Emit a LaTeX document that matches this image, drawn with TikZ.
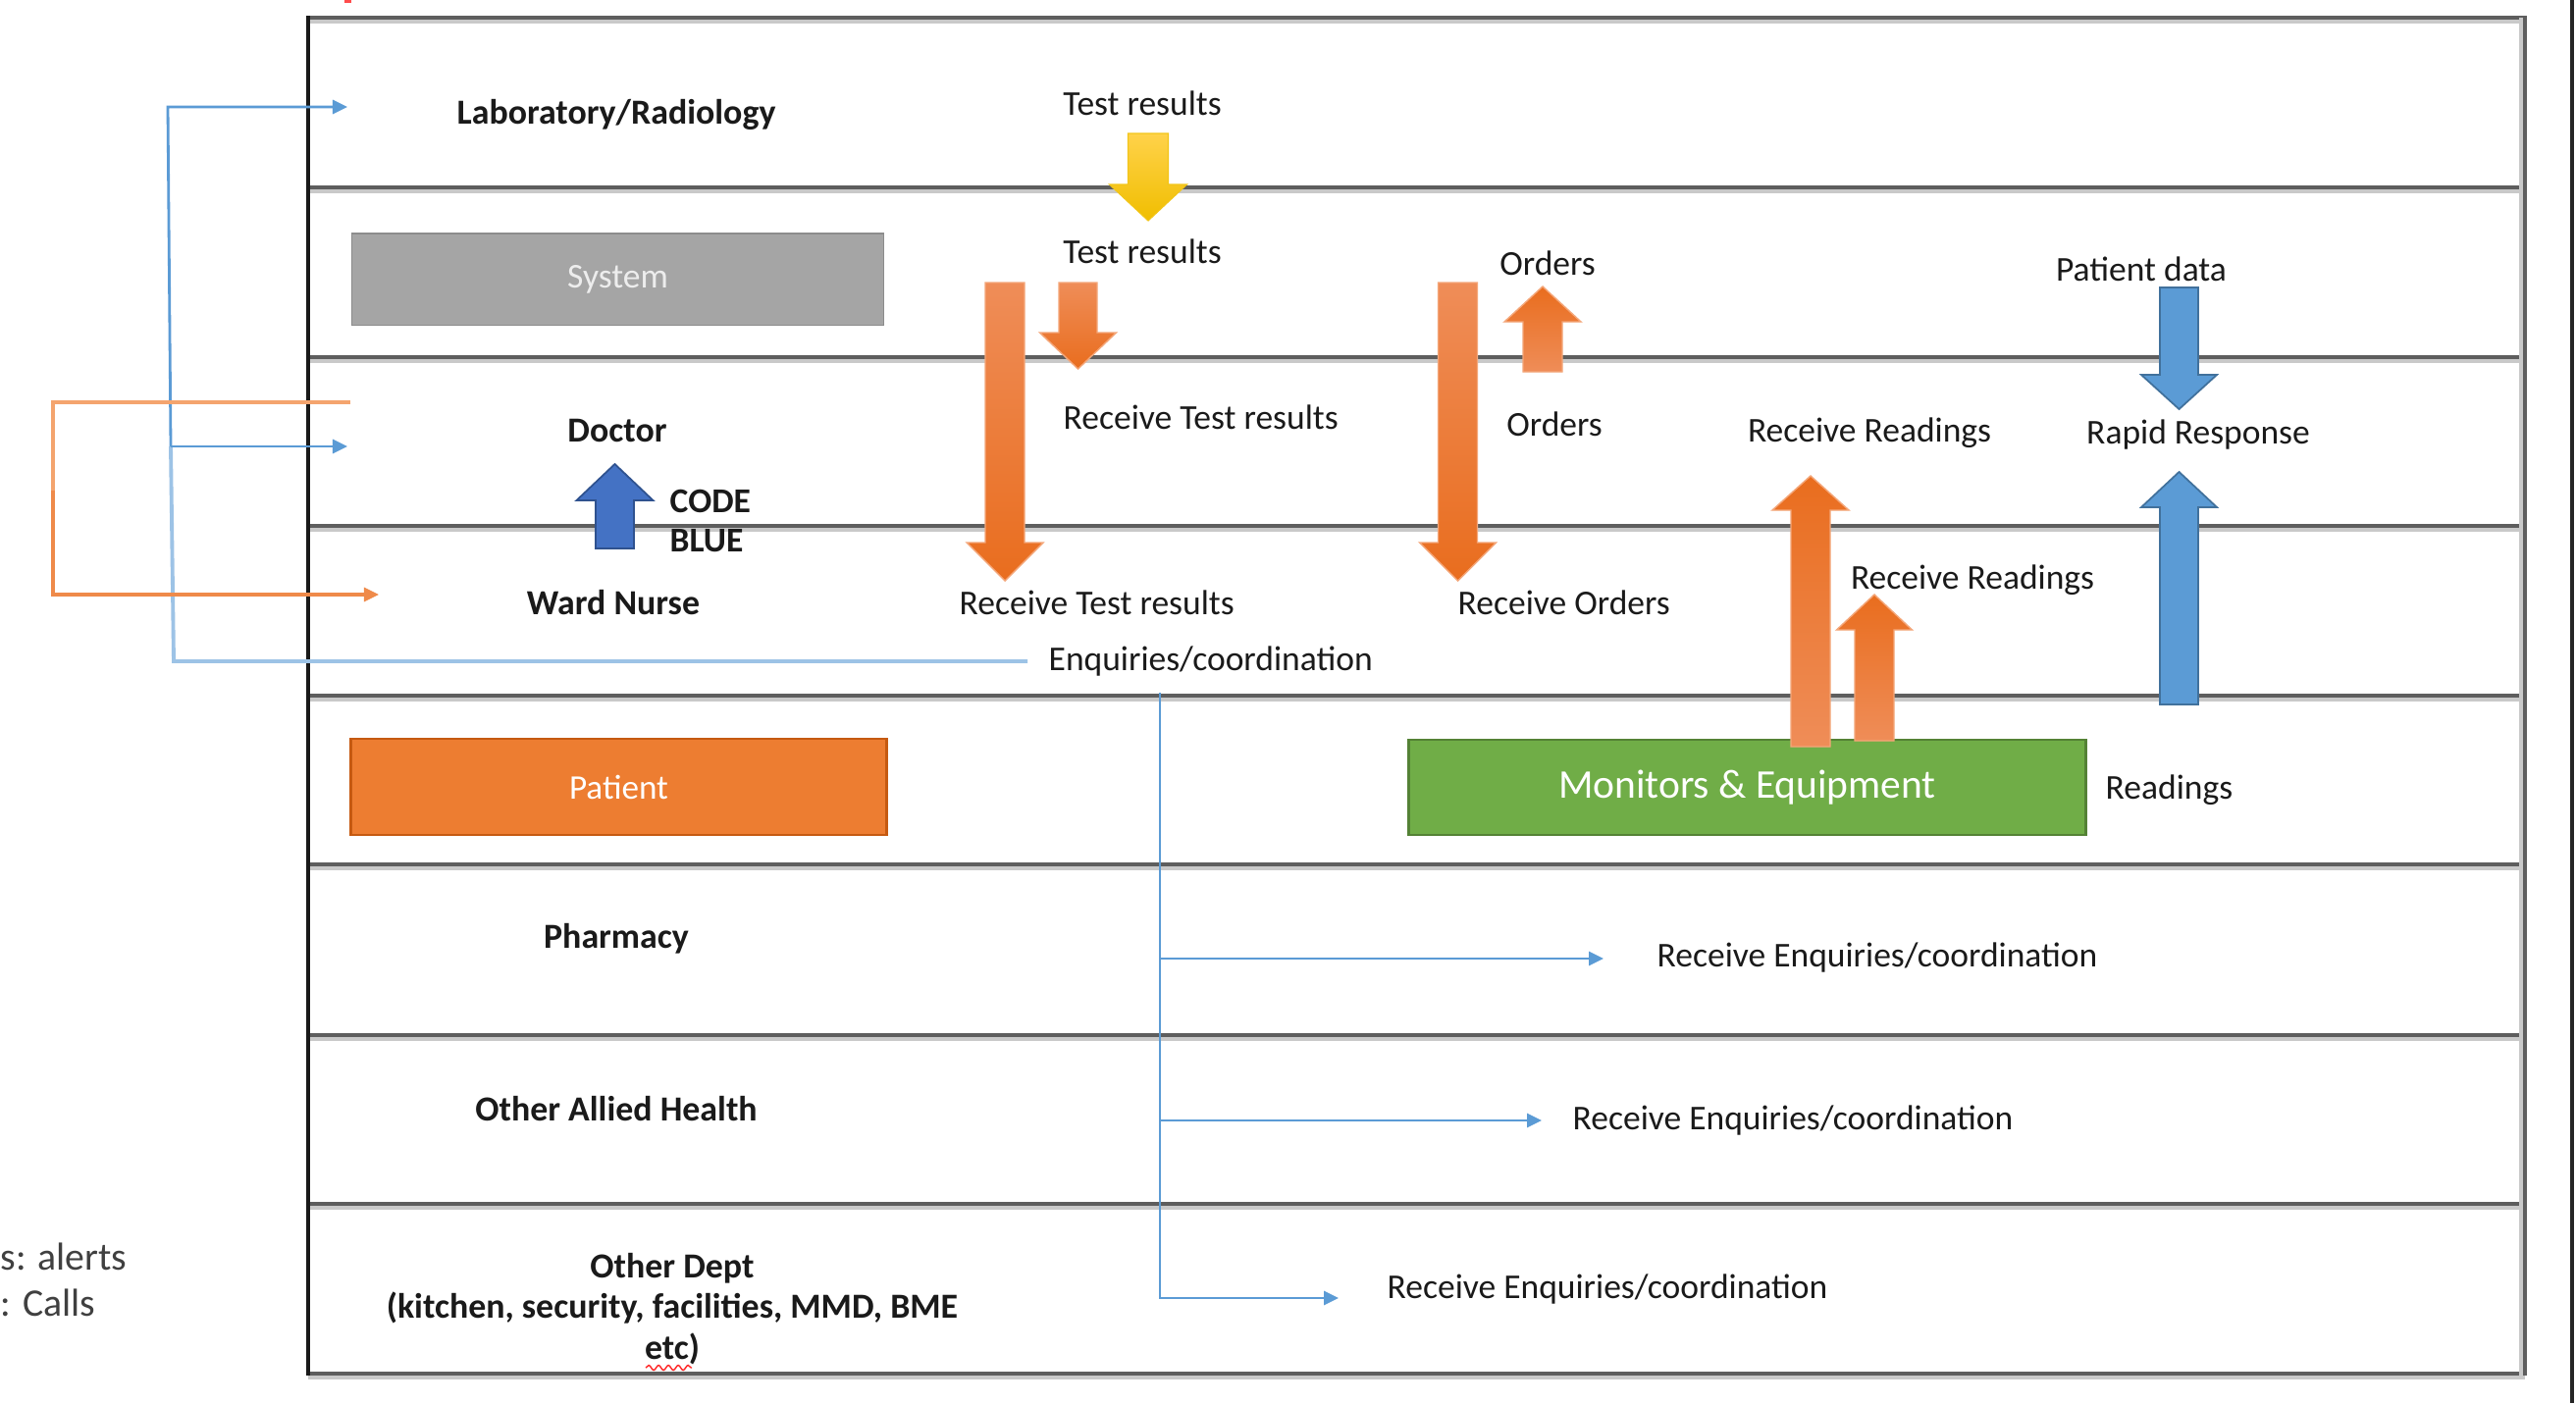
\documentclass[tikz,border=0pt]{standalone}
\usepackage{fontspec}
\setmainfont{Carlito}
\usetikzlibrary{arrows.meta,decorations.pathmorphing}

\definecolor{ruleDark}{HTML}{5E5E5E}
\definecolor{ruleLight}{HTML}{C9C9C9}
\definecolor{orLight}{HTML}{EF8D58}
\definecolor{orMid}{HTML}{F27F2A}
\definecolor{orDark}{HTML}{E96D1E}
\definecolor{orEdge}{HTML}{F4A77A}
\definecolor{orBox}{HTML}{ED7D31}
\definecolor{orBoxEdge}{HTML}{C55A11}
\definecolor{ylTop}{HTML}{FFD24A}
\definecolor{ylBot}{HTML}{F0BE00}
\definecolor{blArrow}{HTML}{5B9BD5}
\definecolor{blArrowEdge}{HTML}{41719C}
\definecolor{blCode}{HTML}{4472C4}
\definecolor{blCodeEdge}{HTML}{2F528F}
\definecolor{blLine}{HTML}{5B9BD5}
\definecolor{blPale}{HTML}{9DC3E6}
\definecolor{orLine}{HTML}{EF8A4A}
\definecolor{orPale}{HTML}{F4A46E}
\definecolor{grBox}{HTML}{70AD47}
\definecolor{grBoxEdge}{HTML}{548235}
\definecolor{sysGray}{HTML}{A5A5A5}
\definecolor{txt}{HTML}{1A1A1A}

% block arrow: style, x, tail y, head-base y, tip y, half shaft, half head
\newcommand{\blockarr}[7]{%
  \path[#1] (#2-#6,#3) -- (#2+#6,#3) -- (#2+#6,#4) -- (#2+#7,#4) -- (#2,#5)
     -- (#2-#7,#4) -- (#2-#6,#4) -- cycle;}

\begin{document}
\begin{tikzpicture}[x=0.01cm,y=-0.01cm,
  lanerule/.style={draw=ruleDark,line width=1.1pt},
  laneshade/.style={draw=ruleLight,line width=1.1pt},
  lanelbl/.style={inner sep=0pt,text=txt,align=center,
     font=\fontsize{10.2}{11.9}\selectfont\bfseries},
  lbl/.style={inner sep=0pt,text=txt,font=\fontsize{10.1}{12}\selectfont},
  sidelbl/.style={inner sep=0pt,text=black!75,font=\fontsize{11.3}{13}\selectfont},
  flowdown/.style={shade,top color=orLight,middle color=orMid,bottom color=orDark,
     draw=orEdge,line width=0.4pt},
  flowup/.style={shade,top color=orDark,middle color=orMid,bottom color=orLight,
     draw=orEdge,line width=0.4pt},
  testdown/.style={shade,top color=ylTop,bottom color=ylBot,draw=ylBot!90!white,line width=0.3pt},
  datablue/.style={fill=blArrow,draw=blArrowEdge,line width=0.5pt},
  codeblue/.style={fill=blCode,draw=blCodeEdge,line width=0.5pt},
  tip/.style={-{Triangle[length=1.5mm,width=1.4mm]}},
  enqline/.style={draw=blLine,line width=0.8pt},
]
\useasboundingbox (0,0) rectangle (2625,1430);
\fill[white] (0,0) rectangle (2625,1430);

% swim-lane rules
\foreach \yy in {18,191,364,536,709,881,1055,1227,1400}{
  \draw[laneshade] (314,\yy+4) -- (2573,\yy+4);
  \draw[lanerule] (314,\yy) -- (2573,\yy);
}
\draw[line width=1.1pt,black!90] (314,16) -- (314,1402);
\draw[ruleLight,line width=1.1pt] (2569,18) -- (2569,1402);
\draw[ruleDark,line width=1.3pt] (2573,16) -- (2573,1402);
\draw[black!85,line width=1pt] (2621,0) -- (2621,1430);
\fill[red!70] (351,0) rectangle (358,3);

% lane titles
\node[lanelbl] (lab) at (628,117) {Laboratory/Radiology};
\node[lanelbl] (doctor) at (629,439) {Doctor};
\node[lanelbl] (nurse) at (625,614) {Ward Nurse};
\node[lanelbl] (pharmacy) at (628,957) {Pharmacy};
\node[lanelbl] (allied) at (628,1130) {Other Allied Health};
\node[lanelbl] (otherdept) at (685,1334) {Other Dept\\(kitchen, security, facilities, MMD, BME\\etc)};
\draw[red!85,line width=0.4pt,decorate,decoration={snake,amplitude=0.25mm,segment length=1mm}]
  (658,1394) -- (705,1394);

% boxes
\node[fill=sysGray,draw=sysGray!85!black,line width=0.3pt,minimum width=5.41cm,minimum height=0.93cm,
  text=white!93!black,font=\fontsize{10.1}{12}\selectfont,inner sep=0pt] (system) at (629.5,284.5) {System};
\node[fill=orBox,draw=orBoxEdge,line width=0.8pt,minimum width=5.45cm,minimum height=0.98cm,
  text=white,font=\fontsize{10}{12}\selectfont,inner sep=0pt] (patient) at (630.5,802) {Patient};
\node[fill=grBox,draw=grBoxEdge,line width=0.8pt,minimum width=6.89cm,minimum height=0.97cm,
  text=white,font=\fontsize{11.8}{14}\selectfont,inner sep=0pt] (monitors) at (1780.5,802.5) {Monitors \& Equipment};

% flow labels
\node[lbl] (tr1) at (1164,105) {Test results};
\node[lbl] (tr2) at (1164,256) {Test results};
\node[lbl,anchor=west] (rtr1) at (1083,425) {Receive Test results};
\node[lbl,anchor=west] (rtr2) at (977,614) {Receive Test results};
\node[lbl] (ord1) at (1577,268) {Orders};
\node[lbl] (ord2) at (1584,432) {Orders};
\node[lbl,anchor=west] (rord) at (1485,614) {Receive Orders};
\node[lbl,anchor=west] (enq) at (1068,674) {Enquiries/coordination};
\node[lbl] (rr1) at (1905,441) {Receive Readings};
\node[lbl] (rr2) at (2010,591) {Receive Readings};
\node[lbl] (pdata) at (2182,274) {Patient data};
\node[lbl] (rapid) at (2240,443) {Rapid Response};
\node[lbl,anchor=west] (readings) at (2145,805) {Readings};
\node[lbl,anchor=west] (renq1) at (1688,976) {Receive Enquiries/coordination};
\node[lbl,anchor=west] (renq2) at (1602,1142) {Receive Enquiries/coordination};
\node[lbl,anchor=west] (renq3) at (1413,1314) {Receive Enquiries/coordination};
\node[lanelbl,anchor=west,align=left,font=\fontsize{10.1}{11.6}\selectfont\bfseries] (code) at (682,531) {CODE\\BLUE};
\node[sidelbl,anchor=west] (alerts) at (0,1281) {s: alerts};
\node[sidelbl,anchor=west] (calls) at (0,1328) {: Calls};

% block arrows
\blockarr{testdown}{1170}{136}{188}{225}{20.5}{39.5}
\blockarr{flowdown}{1024}{288}{553}{592}{20}{39}
\blockarr{flowdown}{1098.5}{288}{339}{376}{19.5}{39}
\blockarr{flowdown}{1485.5}{288}{553}{592}{20}{39}
\blockarr{flowup}{1572}{379}{328}{292}{20}{39}
\blockarr{flowup}{1845}{761}{520}{485}{20}{39}
\blockarr{flowup}{1910}{755}{642}{606}{20}{38.5}
\blockarr{datablue}{2220.5}{293}{382}{417}{19.5}{38.5}
\blockarr{datablue}{2220.5}{718}{517}{481}{19.5}{38.5}
\blockarr{codeblue}{626.5}{559}{510}{473}{19.5}{39}

% call-out connectors on the left
\coordinate (labIn) at (354,109);
\coordinate (docIn) at (354,455);
\coordinate (docOut) at (357,410);
\coordinate (nurseIn) at (386,606);
\coordinate (enqEnd) at (1047,674);
\draw[blPale,line width=1.1pt] (enqEnd) -- (177,674) -- (174,455);
\draw[blLine,line width=0.8pt,tip] (174,455) -- (171,109) -- (labIn);
\draw[blLine,line width=0.8pt,tip] (174,455) -- (docIn);
\draw[orPale,line width=0.9pt] (docOut) -- (54,410) -- (54,500);
\draw[orLine,line width=0.9pt,tip] (54,500) -- (54,606) -- (nurseIn);

% enquiries distribution
\coordinate (enqTop) at (1182,706);
\coordinate (phIn) at (1634,977);
\coordinate (alIn) at (1571,1142);
\coordinate (odIn) at (1364,1323);
\draw[enqline,tip] (enqTop) -- (1182,1323) -- (odIn);
\draw[enqline,tip] (1182,977) -- (phIn);
\draw[enqline,tip] (1182,1142) -- (alIn);
\end{tikzpicture}
\end{document}
